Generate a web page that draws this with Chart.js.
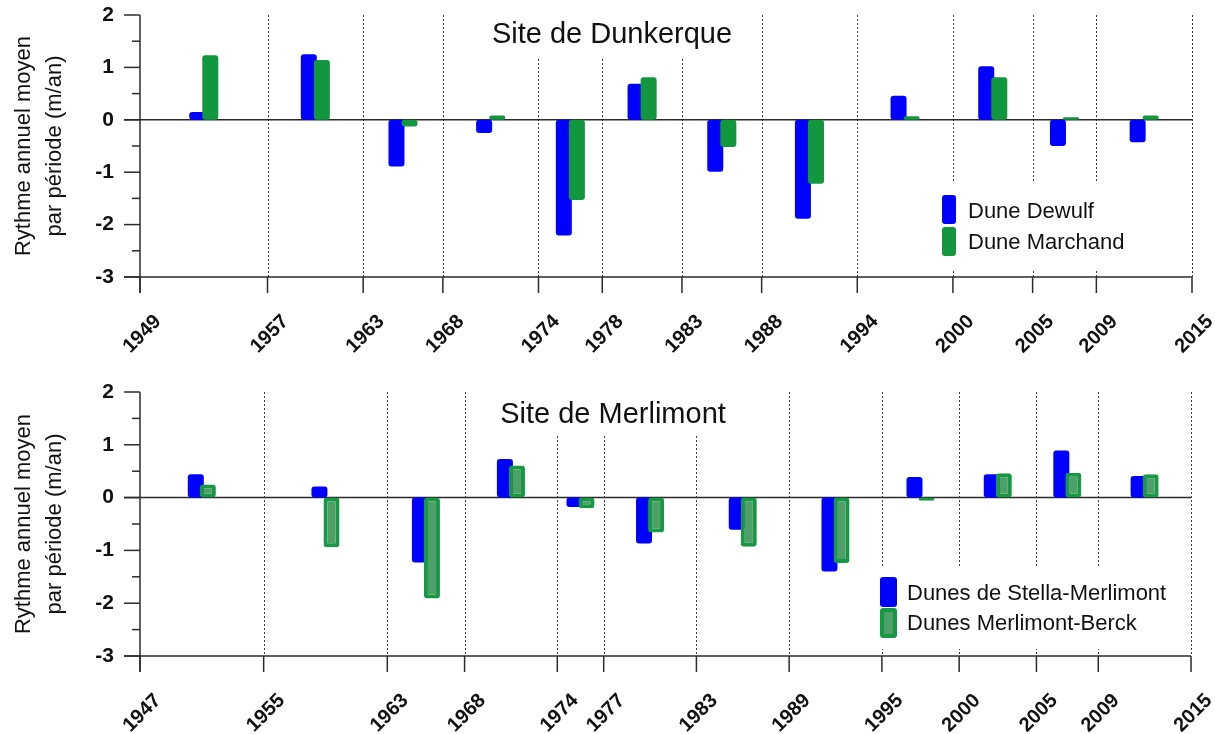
<!DOCTYPE html>
<html><head><meta charset="utf-8">
<script src="https://cdn.jsdelivr.net/npm/chart.js@4.4.0/dist/chart.umd.min.js"></script>
<style>
html,body{margin:0;padding:0;background:#fff;overflow:hidden;}
#w1{position:absolute;left:0;top:0;width:1215px;height:370px;}
#w2{position:absolute;left:0;top:370px;width:1215px;height:364px;}
</style></head><body>
<div id="w1"><canvas id="c1"></canvas></div>
<div id="w2"><canvas id="c2"></canvas></div>
<script>
// ---- Data ----
const dunkYears = [1949,1957,1963,1968,1974,1978,1983,1988,1994,2000,2005,2009,2015];
const dunkDewulf = [0.15, 1.25, -0.89, -0.25, -2.21, 0.69, -0.99, -1.89, 0.46, 1.02, -0.50, -0.43];
const dunkMarchand = [1.23, 1.14, -0.13, 0.08, -1.53, 0.81, -0.52, -1.22, 0.07, 0.81, 0.05, 0.08];
const dunkNames = ['Dune Dewulf', 'Dune Marchand'];

const merlYears = [1947,1955,1963,1968,1974,1977,1983,1989,1995,2000,2005,2009,2015];
const merlStella = [0.44, 0.21, -1.23, 0.73, -0.18, -0.87, -0.61, -1.40, 0.39, 0.44, 0.89, 0.41];
const merlBerck = [0.25, -0.94, -1.91, 0.61, -0.20, -0.66, -0.93, -1.24, -0.06, 0.46, 0.47, 0.44];
const merlNames = ['Dunes de Stella-Merlimont', 'Dunes Merlimont-Berck'];

const yTicks = [-3, -2, -1, 0, 1, 2];
const yTitle = ['Rythme annuel moyen', 'par période (m/an)'];

// ---- Styles ----
const FONT = "'Liberation Sans', Arial, Helvetica, sans-serif";
Chart.defaults.font.family = FONT;
const BLUE = '#0000ff';
const GREEN = '#12963e';

function rrect(ctx, x, y, w, h, r) {
  ctx.beginPath();
  ctx.moveTo(x + r, y);
  ctx.lineTo(x + w - r, y); ctx.quadraticCurveTo(x + w, y, x + w, y + r);
  ctx.lineTo(x + w, y + h - r); ctx.quadraticCurveTo(x + w, y + h, x + w - r, y + h);
  ctx.lineTo(x + r, y + h); ctx.quadraticCurveTo(x, y + h, x, y + h - r);
  ctx.lineTo(x, y + r); ctx.quadraticCurveTo(x, y, x + r, y);
  ctx.closePath();
}

function makeChart(canvasId, cfg) {
  const years = cfg.years;
  const mids = years.slice(0, -1).map((y, i) => (y + years[i + 1]) / 2);
  const xMin = years[0], xMax = years[years.length - 1];
  const off = cfg.offYears;

  const deco = {
    id: 'deco' + canvasId,
    beforeDatasetsDraw(chart) {
      const ctx = chart.ctx;
      const {left, right, top, bottom} = chart.chartArea;
      const xs = chart.scales.x, ys = chart.scales.y;
      ctx.save();
      // dotted period separators
      ctx.strokeStyle = '#3a3a3a'; ctx.lineWidth = 1; ctx.setLineDash([2, 2]);
      years.slice(1).forEach(v => {
        const px = Math.round(xs.getPixelForValue(v)) + 0.5;
        ctx.beginPath(); ctx.moveTo(px, top); ctx.lineTo(px, bottom); ctx.stroke();
      });
      ctx.setLineDash([]);
      // white boxes behind title and legend
      ctx.fillStyle = '#fff';
      const tb = cfg.titleBox, lb = cfg.legendBox;
      ctx.fillRect(tb[0], tb[1], tb[2] - tb[0], tb[3] - tb[1]);
      ctx.fillRect(lb[0], lb[1], lb[2] - lb[0], lb[3] - lb[1]);
      // axes
      ctx.strokeStyle = '#2b2b2b'; ctx.lineWidth = 1.5;
      const line = (x1, y1, x2, y2) => { ctx.beginPath(); ctx.moveTo(x1, y1); ctx.lineTo(x2, y2); ctx.stroke(); };
      const y0 = ys.getPixelForValue(0);
      line(left - 16, y0, right, y0);
      line(left - 16, bottom, right, bottom);
      line(left, top, left, bottom + 16);
      yTicks.forEach(v => { const p = ys.getPixelForValue(v); line(left - 16, p, left, p); });
      for (let i = 0; i < yTicks.length - 1; i++) {
        const p = ys.getPixelForValue((yTicks[i] + yTicks[i + 1]) / 2);
        line(left - 8, p, left, p);
      }
      years.forEach(v => { const p = xs.getPixelForValue(v); line(p, bottom, p, bottom + 16); });
      ctx.restore();
    },
    afterDatasetsDraw(chart) {
      const ctx = chart.ctx;
      ctx.save();
      // title
      ctx.fillStyle = '#111';
      ctx.font = '29px ' + FONT;
      ctx.textAlign = 'center'; ctx.textBaseline = 'alphabetic';
      ctx.fillText(cfg.title, cfg.titlePos[0], cfg.titlePos[1]);
      // legend
      const L = cfg.legend;
      ctx.font = '22px ' + FONT;
      ctx.textAlign = 'left';
      cfg.names.forEach((name, i) => {
        const ds = chart.data.datasets[i];
        const y = L.boxY[i];
        rrect(ctx, L.boxX, y, L.boxW, L.boxH, 3);
        ctx.fillStyle = ds.borderWidth ? ds.borderColor : ds.backgroundColor;
        ctx.fill();
        if (ds.borderWidth) {
          const b = ds.borderWidth;
          ctx.fillStyle = ds.backgroundColor;
          ctx.fillRect(L.boxX + b, y + b, L.boxW - 2 * b, L.boxH - 2 * b);
        }
        ctx.fillStyle = '#111';
        ctx.fillText(name, L.textX, L.textY[i]);
      });
      ctx.restore();
    }
  };

  const barCommon = {
    grouped: false,
    maxBarThickness: 16,
    borderRadius: 3,
    borderSkipped: false,
    yAxisID: 'y'
  };

  return new Chart(document.getElementById(canvasId), {
    type: 'bar',
    data: {
      datasets: [
        Object.assign({}, barCommon, {
          label: cfg.names[0],
          data: mids.map((m, i) => ({x: m, y: cfg.a[i]})),
          xAxisID: 'xa',
          backgroundColor: BLUE,
          borderWidth: 0,
          order: 1
        }),
        Object.assign({}, barCommon, {
          label: cfg.names[1],
          data: mids.map((m, i) => ({x: m, y: cfg.b[i]})),
          xAxisID: 'xb',
          backgroundColor: cfg.greenFill,
          borderColor: cfg.greenBorder,
          borderWidth: cfg.greenBorderWidth,
          order: 0
        })
      ]
    },
    options: {
      responsive: true,
      maintainAspectRatio: false,
      devicePixelRatio: 1,
      animation: false,
      events: [],
      layout: {padding: {left: 0, right: cfg.padRight, top: cfg.padTop, bottom: 0}},
      plugins: {legend: {display: false}, tooltip: {enabled: false}, title: {display: false}},
      scales: {
        x: {
          type: 'linear', position: 'bottom', min: xMin, max: xMax, offset: false,
          grid: {display: false, drawTicks: true, tickLength: 16, offset: false},
          border: {display: false},
          afterBuildTicks: s => { s.ticks = years.map(v => ({value: v})); },
          ticks: {
            autoSkip: false, minRotation: 45, maxRotation: 45, padding: 17, labelOffset: 18,
            color: '#111', font: {size: 20, weight: 'bold'},
            callback: v => String(v)
          },
          afterFit: s => { s.height = cfg.xAxisH; s.paddingLeft = 0; s.paddingRight = 0; }
        },
        xa: {type: 'linear', display: false, offset: false, min: xMin + off, max: xMax + off, grid: {offset: false}},
        xb: {type: 'linear', display: false, offset: false, min: xMin - off, max: xMax - off, grid: {offset: false}},
        y: {
          type: 'linear', position: 'left', min: -3, max: 2,
          grid: {display: false, drawTicks: true, tickLength: 16},
          border: {display: false},
          afterBuildTicks: s => { s.ticks = yTicks.map(v => ({value: v})); },
          ticks: {padding: 10, color: '#111', font: {size: 21, weight: 'bold'}, callback: v => String(v)},
          title: {display: true, text: yTitle, color: '#111', font: {size: 22, lineHeight: 1.4}, padding: {top: 9, bottom: 0}},
          afterFit: s => { s.width = 140; s.paddingTop = 0; s.paddingBottom = 0; }
        }
      }
    },
    plugins: [deco]
  });
}

makeChart('c1', {
  years: dunkYears, a: dunkDewulf, b: dunkMarchand, names: dunkNames,
  title: 'Site de Dunkerque', titlePos: [612, 43], titleBox: [450, 13, 757, 57],
  legendBox: [932, 182, 1150, 270],
  legend: {boxX: 942, boxW: 14, boxH: 29, boxY: [195, 227], textX: 968, textY: [218, 249]},
  greenFill: GREEN, greenBorder: GREEN, greenBorderWidth: 0,
  offYears: 0.41, padRight: 23, padTop: 15, xAxisH: 93
});

makeChart('c2', {
  years: merlYears, a: merlStella, b: merlBerck, names: merlNames,
  title: 'Site de Merlimont', titlePos: [613, 53], titleBox: [470, 21, 782, 65],
  legendBox: [868, 197, 1182, 279],
  legend: {boxX: 880, boxW: 17, boxH: 30, boxY: [207, 238], textX: 907, textY: [230, 260]},
  greenFill: '#4f9f69', greenBorder: '#179842', greenBorderWidth: 4,
  offYears: 0.39, padRight: 24, padTop: 22, xAxisH: 78
});
</script>
</body></html>
